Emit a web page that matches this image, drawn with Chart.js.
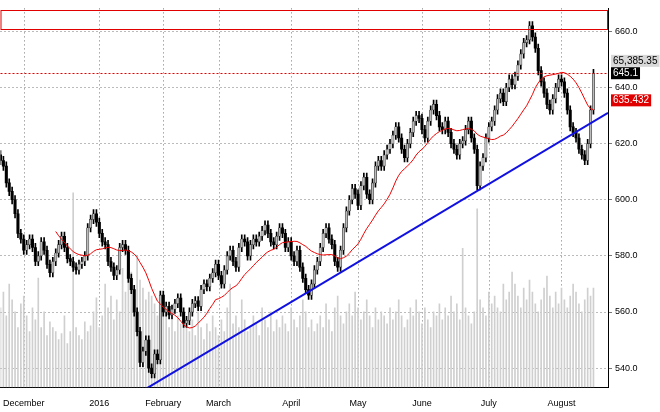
<!DOCTYPE html>
<html><head><meta charset="utf-8">
<script src="https://cdn.jsdelivr.net/npm/chart.js@4"></script>
<style>html,body{margin:0;padding:0;background:#fff}#w{width:660px;height:412px}</style>
</head><body><div id="w"><canvas id="c"></canvas></div>
<script>
const closes=[614,612,606,603,600,595,588,586,
582,584,586,583,578,580,585,582,577,574,
578,581,584,587,583,579,
578,576,575,577,578,580,
590,593,595,592,588,585,
584,578,576,573,575,583,584,582,
572,568,560,553,542,546,550,540,538,545,
543,566,560,562,559,561,563,565,560,556,
557,560,563,564,562,568,570,569,572,574,
577,573,570,575,580,582,578,576,583,586,585,580,
584,586,585,587,589,591,588,585,584,587,590,588,
583,585,580,578,582,576,572,568,566,570,575,578,
583,588,590,586,584,578,576,582,590,596,
600,604,602,598,605,608,602,600,606,612,614,612,
616,618,620,623,626,622,618,615,620,624,
628,630,629,625,622,628,632,634,630,626,
625,628,624,620,618,616,620,621,625,628,622,618,
605,612,615,622,626,628,632,636,638,635,
640,643,641,644,648,652,656,657,662,658,654,
646,642,638,634,632,636,640,643,642,638,
632,626,624,622,618,616,614,620,632,645];
const volumes=[40,48,36,52,44,38,30,42,
46,36,28,40,34,55,30,38,26,33,
30,28,24,27,36,22,
28,98,30,26,24,33,
28,31,38,45,30,36,
52,40,46,34,44,38,60,48,
62,58,40,66,54,50,44,48,46,42,
36,40,44,38,30,34,28,36,32,40,
30,28,34,26,38,30,24,32,28,36,
30,26,34,28,40,52,32,36,30,44,34,28,
30,36,32,26,40,34,30,38,28,34,30,36,
32,28,40,34,30,36,44,38,30,34,28,32,
36,30,42,34,28,40,46,36,32,38,
42,36,48,40,34,38,44,36,30,40,34,38,
36,32,40,34,38,44,36,30,34,40,
36,44,38,32,40,34,30,38,36,42,
34,40,36,46,38,42,34,70,40,36,32,38,
90,44,40,36,48,42,46,40,38,52,
44,48,58,52,46,40,50,44,54,48,42,
38,44,50,56,46,40,48,42,50,44,
40,46,52,48,42,38,44,50,46,50];
const monthLabels=['December','2016','February','March','April','May','June','July','August'];
const monthIndex=[8,34,56,75,100,123,145,168,193];
const yTicks=[540,560,580,600,620,640,660];
const trendIdx=[49,209], trendVal=[532,631];
const boxRange=[660.8,667.6], dotLevel=645.1;
const sideLabels=['65,385.35','645.1','635.432'];

const opens=closes.map((c,i)=>i?closes[i-1]:c+2);
const wick=closes.map((c,i)=>[Math.min(c,opens[i])-1.5,Math.max(c,opens[i])+1.5]);
const body=closes.map((c,i)=>{let o=opens[i];if(Math.abs(c-o)<0.6)o=c+0.6;return [o,c];});
const up=closes.map((c,i)=>c>=opens[i]);
const ma=closes.map((c,i)=>{if(i<19)return null;let s=0;for(let k=i-19;k<=i;k++)s+=closes[k];return s/20;});
const idx=closes.map((_,i)=>i);

const overlay={id:'ov',afterDatasetsDraw(ch){
 const {ctx,scales:{x,y},chartArea:a}=ch;ctx.save();
 ctx.strokeStyle='#e00000';ctx.lineWidth=1;
 const t=Math.round(y.getPixelForValue(boxRange[1]))+0.5,b=Math.round(y.getPixelForValue(boxRange[0]))+0.5;
 ctx.strokeRect(a.left+0.5,t,a.width-1,b-t);
 ctx.setLineDash([2,2]);ctx.beginPath();const dy=Math.round(y.getPixelForValue(dotLevel))+0.5;ctx.moveTo(a.left,dy);ctx.lineTo(a.right,dy);ctx.stroke();ctx.setLineDash([]);
 ctx.font='10px "Liberation Sans",Arial';ctx.textBaseline='middle';
 const lab=(t,v,bg,fg)=>{const py=y.getPixelForValue(v);const w=ctx.measureText(t).width+4;ctx.fillStyle=bg;ctx.fillRect(a.right+3,py-6,w,12);ctx.fillStyle=fg;ctx.fillText(t,a.right+5,py);};
 lab(sideLabels[0],649.5,'#d8d8d8','#000');
 lab(sideLabels[1],dotLevel,'#000','#fff');
 lab(sideLabels[2],635.432,'#e00000','#fff');
 ctx.restore();}};

new Chart(document.getElementById('c'),{
 data:{labels:idx,datasets:[
  {type:'bar',data:volumes,yAxisID:'v',backgroundColor:'#cfcfcf',barThickness:1,grouped:false,order:5},
  {type:'line',data:ma,borderColor:'#f00000',borderWidth:1,pointRadius:0,order:1},
  {type:'bar',data:wick,backgroundColor:'#000',barThickness:1,grouped:false,order:3},
  {type:'bar',data:body,backgroundColor:up.map(u=>u?'#bcbcbc':'#000'),borderColor:'#333',borderWidth:up.map(u=>u?0.6:0),borderSkipped:false,barThickness:2.4,grouped:false,order:2},
  {type:'line',xAxisID:'xl',data:trendIdx.map((t,i)=>({x:t,y:trendVal[i]})),borderColor:'#1010e0',borderWidth:2,pointRadius:0,order:0}
 ]},
 options:{responsive:true,maintainAspectRatio:false,animation:false,layout:{padding:0},
  plugins:{legend:{display:false},tooltip:{enabled:false}},
  scales:{
   x:{type:'category',offset:false,min:0,max:209,
     labels:Array.from({length:210},(_,i)=>i),
     grid:{display:false},border:{display:true,color:'#000'},
     ticks:{autoSkip:false,maxRotation:0,font:{size:9,family:'Liberation Sans'},color:'#000',
       callback:(v,i)=>{const k=monthIndex.indexOf(i);return k<0?null:monthLabels[k];}}},
   xl:{type:'linear',min:0,max:209,display:false},
   y:{position:'right',min:533.2,max:668.2,afterBuildTicks:s=>{s.ticks=yTicks.map(v=>({value:v}));},
     grid:{color:'#777',tickLength:4},border:{display:true,color:'#000',dash:[1,3]},
     ticks:{font:{size:9,family:'Liberation Sans'},color:'#000',callback:v=>v.toFixed(1)},afterFit:s=>{s.width=52;}},
   v:{display:false,min:0,max:191}
  }},
 plugins:[overlay,{id:'vg',beforeDatasetsDraw(ch){const {ctx,scales:{x},chartArea:a}=ch;ctx.save();ctx.strokeStyle='#777';ctx.setLineDash([1,3]);monthIndex.forEach(i=>{const px=Math.round(x.getPixelForValue(i))+0.5;ctx.beginPath();ctx.moveTo(px,a.top);ctx.lineTo(px,a.bottom);ctx.stroke();});ctx.restore();}}]
});
</script></body></html>
